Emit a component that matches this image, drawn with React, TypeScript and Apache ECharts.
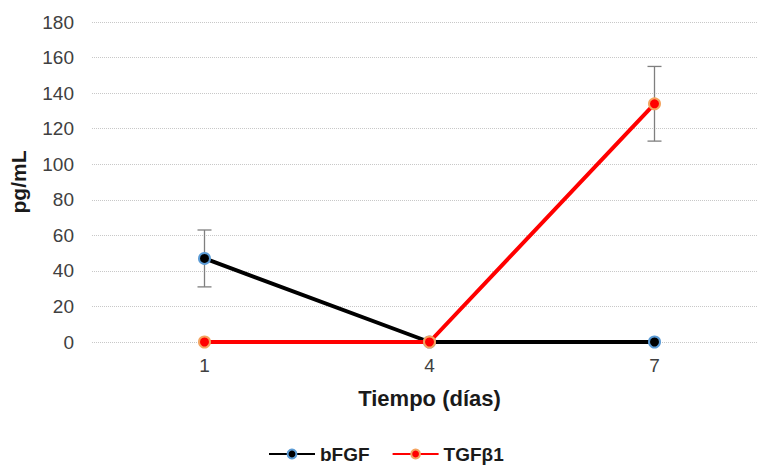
import React, { useEffect, useRef } from "react";
import * as echarts from "echarts";

const categories = ["1", "4", "7"];
const bfgf = [47, 0, 0];
const bfgfErr = [16, 0, 0];
const tgf = [0, 0, 134];
const tgfErr = [0, 0, 21];

function errorSeries(name: string, vals: number[], errs: number[]) {
  const data = vals
    .map((v, i) => [i, v - errs[i], v + errs[i], errs[i]])
    .filter((d) => d[3] > 0);
  return {
    type: "custom",
    name: name + "_err",
    data,
    z: 1,
    silent: true,
    renderItem: (params: any, api: any) => {
      const x = api.value(0);
      const lo = api.coord([x, api.value(1)]);
      const hi = api.coord([x, api.value(2)]);
      const w = 7;
      const style = { stroke: "#7f7f7f", lineWidth: 1.3 };
      return {
        type: "group",
        children: [
          { type: "line", shape: { x1: hi[0], y1: hi[1], x2: lo[0], y2: lo[1] }, style },
          { type: "line", shape: { x1: hi[0] - w, y1: hi[1], x2: hi[0] + w, y2: hi[1] }, style },
          { type: "line", shape: { x1: lo[0] - w, y1: lo[1], x2: lo[0] + w, y2: lo[1] }, style },
        ],
      };
    },
  };
}

export default function App() {
  const ref = useRef<HTMLDivElement>(null);
  useEffect(() => {
    const chart = echarts.init(ref.current!, null, { renderer: "svg" });
    const font = "Arial, 'Liberation Sans', sans-serif";
    chart.setOption({
      animation: false,
      textStyle: { fontFamily: font },
      grid: { left: 90, top: 22, width: 677, height: 320 },
      xAxis: {
        type: "category",
        data: categories,
        boundaryGap: true,
        axisLine: { show: false },
        axisTick: { show: false },
        axisLabel: { color: "#404040", fontSize: 19, margin: 14, fontFamily: font },
        name: "Tiempo (días)",
        nameLocation: "middle",
        nameGap: 45,
        nameTextStyle: { color: "#1a1a1a", fontSize: 22, fontWeight: "bold", fontFamily: font },
      },
      yAxis: {
        type: "value",
        min: 0,
        max: 180,
        interval: 20,
        axisLine: { show: false },
        axisTick: { show: false },
        splitLine: { lineStyle: { color: "#c8c8c8", type: "dotted", width: 1 } },
        axisLabel: { color: "#404040", fontSize: 19, margin: 18, fontFamily: font },
        name: "pg/mL",
        nameLocation: "middle",
        nameGap: 63,
        nameRotate: 90,
        nameTextStyle: { color: "#1a1a1a", fontSize: 21, fontWeight: "bold", fontFamily: font },
      },
      legend: {
        top: 443,
        left: 268,
        padding: 0,
        itemWidth: 46,
        itemHeight: 11,
        itemGap: 22,
        data: ["bFGF", "TGFβ1"],
        textStyle: { color: "#1a1a1a", fontSize: 19, lineHeight: 22, fontWeight: "bold", fontFamily: font },
      },
      series: [
        errorSeries("bFGF", bfgf, bfgfErr),
        errorSeries("TGFβ1", tgf, tgfErr),
        {
          name: "bFGF",
          type: "line",
          data: bfgf,
          z: 3,
          symbol: "circle",
          symbolSize: 11,
          lineStyle: { color: "#000000", width: 4 },
          itemStyle: { color: "#000000", borderColor: "#5b9bd5", borderWidth: 2 },
        },
        {
          name: "TGFβ1",
          type: "line",
          data: tgf,
          z: 4,
          symbol: "circle",
          symbolSize: 11,
          lineStyle: { color: "#ff0000", width: 4 },
          itemStyle: { color: "#ff0000", borderColor: "#f4a460", borderWidth: 2 },
        },
      ],
    });
    return () => chart.dispose();
  }, []);
  return (
    <div
      ref={ref}
      style={{ position: "fixed", left: 0, top: 0, width: 780, height: 467, background: "#ffffff" }}
    />
  );
}
